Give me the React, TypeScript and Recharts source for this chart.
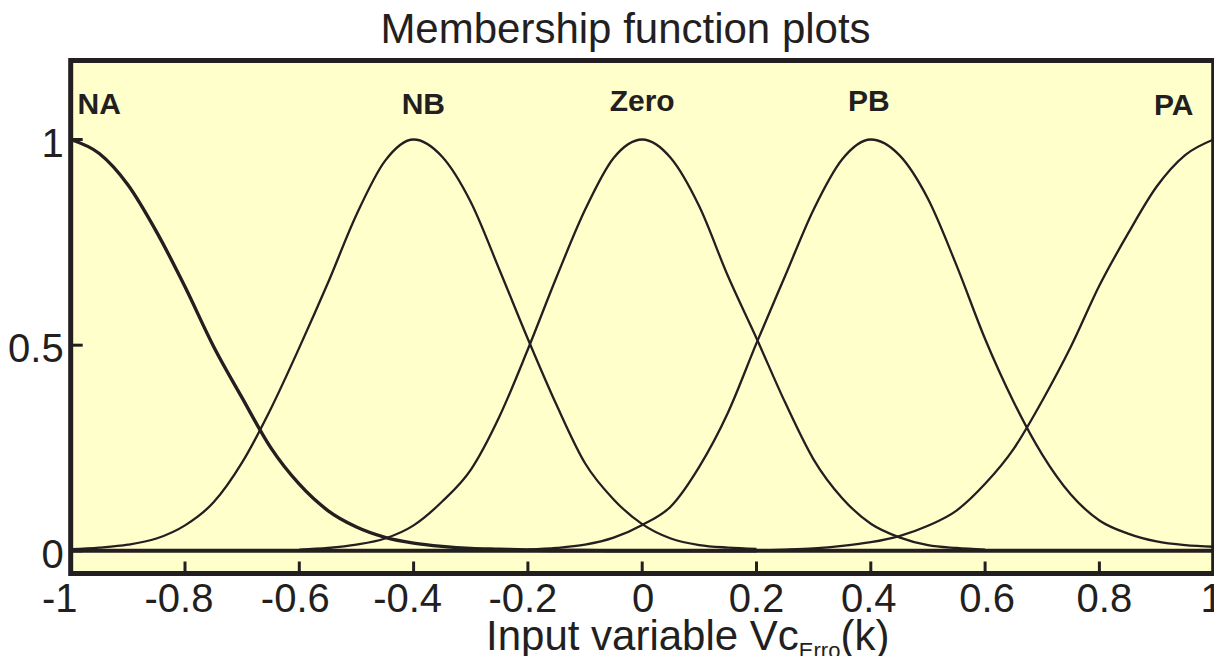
import React from 'react';
import { LineChart, Line, XAxis, YAxis, CartesianGrid, ReferenceArea, ReferenceLine, ReferenceDot } from 'recharts';

// sample positions on the input axis
const xPoints = [
  -1, -0.95, -0.9, -0.85, -0.8, -0.75, -0.7, -0.65, -0.6, -0.55, -0.5, -0.45, -0.4, -0.35, -0.3, -0.25, -0.2, -0.15, -0.1, -0.05,
  0, 0.05, 0.1, 0.15, 0.2, 0.25, 0.3, 0.35, 0.4, 0.45, 0.5, 0.55, 0.6, 0.65, 0.7, 0.75, 0.8, 0.85, 0.9, 0.95, 1,
];

// membership degrees (null = curve not drawn there)
const naValues = [
  1.0, 0.966, 0.89, 0.776, 0.642, 0.497, 0.372, 0.251, 0.162, 0.098, 0.058, 0.033, 0.019, 0.011, 0.006, 0.004, 0.002, 0.001, 0.001, 0,
  0, 0, 0, 0, 0, null, null, null, null, null, null, null, null, null, null, null, null, null, null, null, null,
];
const nbValues = [
  0.004, 0.008, 0.015, 0.03, 0.062, 0.118, 0.215, 0.345, 0.494, 0.651, 0.817, 0.948, 1.0, 0.958, 0.848, 0.684, 0.515, 0.355, 0.213, 0.125,
  0.065, 0.03, 0.014, 0.008, 0.005, null, null, null, null, null, null, null, null, null, null, null, null, null, null, null, null,
];
const zeroValues = [
  null, null, null, null, null, null, null, null, 0.003, 0.007, 0.015, 0.03, 0.062, 0.12, 0.197, 0.326, 0.49, 0.665, 0.829, 0.955,
  1.0, 0.955, 0.837, 0.668, 0.517, 0.361, 0.222, 0.128, 0.066, 0.033, 0.014, 0.007, 0.003, null, null, null, null, null, null, null, null,
];
const pbValues = [
  null, null, null, null, null, null, null, null, null, null, null, null, null, null, null, null, 0.003, 0.007, 0.015, 0.032,
  0.063, 0.108, 0.205, 0.336, 0.505, 0.668, 0.83, 0.952, 1.0, 0.962, 0.856, 0.694, 0.515, 0.362, 0.234, 0.137, 0.074, 0.042, 0.023, 0.014, 0.01,
];
const paValues = [
  null, null, null, null, null, null, null, null, null, null, null, null, null, null, null, null, null, null, null, null,
  null, null, null, null, 0.001, 0.003, 0.006, 0.012, 0.021, 0.036, 0.061, 0.098, 0.163, 0.248, 0.365, 0.496, 0.645, 0.771, 0.885, 0.962, 1.0,
];

const xTicks = [-1, -0.8, -0.6, -0.4, -0.2, 0, 0.2, 0.4, 0.6, 0.8, 1];
const yTicks = [0, 0.5, 1];

// set names and where their labels sit (data coords)
const setNames = ['NA', 'NB', 'Zero', 'PB', 'PA'];
const setLabelX = [-0.95, -0.383, 0, 0.3965, 0.93];
const setLabelY = [1.0875, 1.089, 1.094, 1.095, 1.0846];

const X_DOMAIN: [number, number] = [-1, 1];
const Y_DOMAIN: [number, number] = [-0.055, 1.192];

const INK = '#231f20';
const FILL = '#ffffcc';

// the x tick labels in the original are nudged by hand a little
const tickNudge = [-11, -6, -4, -6, -5, 1, 0, -2, 2, 5, -2];

const data = xPoints.map((x, i) => ({
  x,
  na: naValues[i],
  nb: nbValues[i],
  zero: zeroValues[i],
  pb: pbValues[i],
  pa: paValues[i],
}));

const XTick = (props: any) => {
  const { x, y, payload } = props;
  const idx = xTicks.indexOf(payload.value);
  const nudge = idx >= 0 ? tickNudge[idx] : 0;
  return (
    <text x={x + nudge} y={y} dy="0.71em" textAnchor="middle" fontSize={40} fill={INK}>
      {String(payload.value)}
    </text>
  );
};

const renderTitle = (props: any) => {
  const vb = props.viewBox || {};
  return (
    <text x={vb.x + vb.width / 2 - 16.7} y={vb.y - 16.2} textAnchor="middle" fontSize={42} fill={INK}>
      Membership function plots
    </text>
  );
};

const renderXLabel = (props: any) => {
  const vb = props.viewBox || {};
  return (
    <text x={vb.x + 415.3} y={vb.y + 76.5} textAnchor="start" fontSize={42} fill={INK}>
      Input variable Vc
      <tspan fontSize={22} dy={8}>Erro</tspan>
      <tspan fontSize={42} dy={-8}>(k)</tspan>
    </text>
  );
};

const App: React.FC = () => {
  return (
    <div style={{ width: 1214, height: 656, marginBottom: -8, fontFamily: '"Liberation Sans", Arial, sans-serif' }}>
      <LineChart
        width={1214}
        height={656}
        data={data}
        margin={{ top: 51.5, right: 7.3, left: 0, bottom: 0 }}
      >
        <CartesianGrid horizontal={false} vertical={false} fill={FILL} fillOpacity={1} />
        <XAxis
          dataKey="x"
          type="number"
          domain={X_DOMAIN}
          ticks={xTicks}
          allowDataOverflow
          height={90.5}
          axisLine={false}
          tickSize={-12}
          tickMargin={22}
          tickLine={{ stroke: INK, strokeWidth: 3 }}
          tick={<XTick />}
          interval={0}
          label={{ content: renderXLabel }}
        />
        <XAxis
          xAxisId="top"
          orientation="top"
          dataKey="x"
          type="number"
          domain={X_DOMAIN}
          ticks={xTicks}
          allowDataOverflow
          height={1}
          axisLine={false}
          tickSize={-12}
          tickLine={{ stroke: INK, strokeWidth: 3 }}
          tick={false}
          interval={0}
          label={{ content: renderTitle }}
        />
        <YAxis
          type="number"
          domain={Y_DOMAIN}
          ticks={yTicks}
          allowDataOverflow
          width={62.7}
          axisLine={false}
          tickSize={-12}
          tickMargin={19}
          tickLine={{ stroke: INK, strokeWidth: 3 }}
          tick={{ fontSize: 40, fill: INK, dy: 3 }}
          interval={0}
        />
        <YAxis
          yAxisId="right"
          orientation="right"
          type="number"
          domain={Y_DOMAIN}
          ticks={yTicks}
          allowDataOverflow
          width={1}
          axisLine={false}
          tickSize={-12}
          tickLine={{ stroke: INK, strokeWidth: 3 }}
          tick={false}
          interval={0}
        />
        <ReferenceLine y={0} stroke={INK} strokeWidth={4} />
        <Line dataKey="na" type="monotone" stroke={INK} strokeWidth={3.4} dot={false} isAnimationActive={false} />
        <Line dataKey="nb" type="monotone" stroke={INK} strokeWidth={2.3} dot={false} isAnimationActive={false} />
        <Line dataKey="zero" type="monotone" stroke={INK} strokeWidth={2.3} dot={false} isAnimationActive={false} />
        <Line dataKey="pb" type="monotone" stroke={INK} strokeWidth={2.3} dot={false} isAnimationActive={false} />
        <Line dataKey="pa" type="monotone" stroke={INK} strokeWidth={2.3} dot={false} isAnimationActive={false} />
        {setNames.map((name, i) => (
          <ReferenceDot
            key={name}
            x={setLabelX[i]}
            y={setLabelY[i]}
            r={1}
            fill="none"
            stroke="none"
            label={{ value: name, position: 'center', fontSize: 30, fontWeight: 'bold', fill: INK }}
          />
        ))}
        <ReferenceArea
          x1={X_DOMAIN[0]}
          x2={X_DOMAIN[1]}
          y1={Y_DOMAIN[0]}
          y2={Y_DOMAIN[1]}
          fill="none"
          stroke={INK}
          strokeWidth={5}
          ifOverflow="visible"
        />
      </LineChart>
    </div>
  );
};

export default App;
